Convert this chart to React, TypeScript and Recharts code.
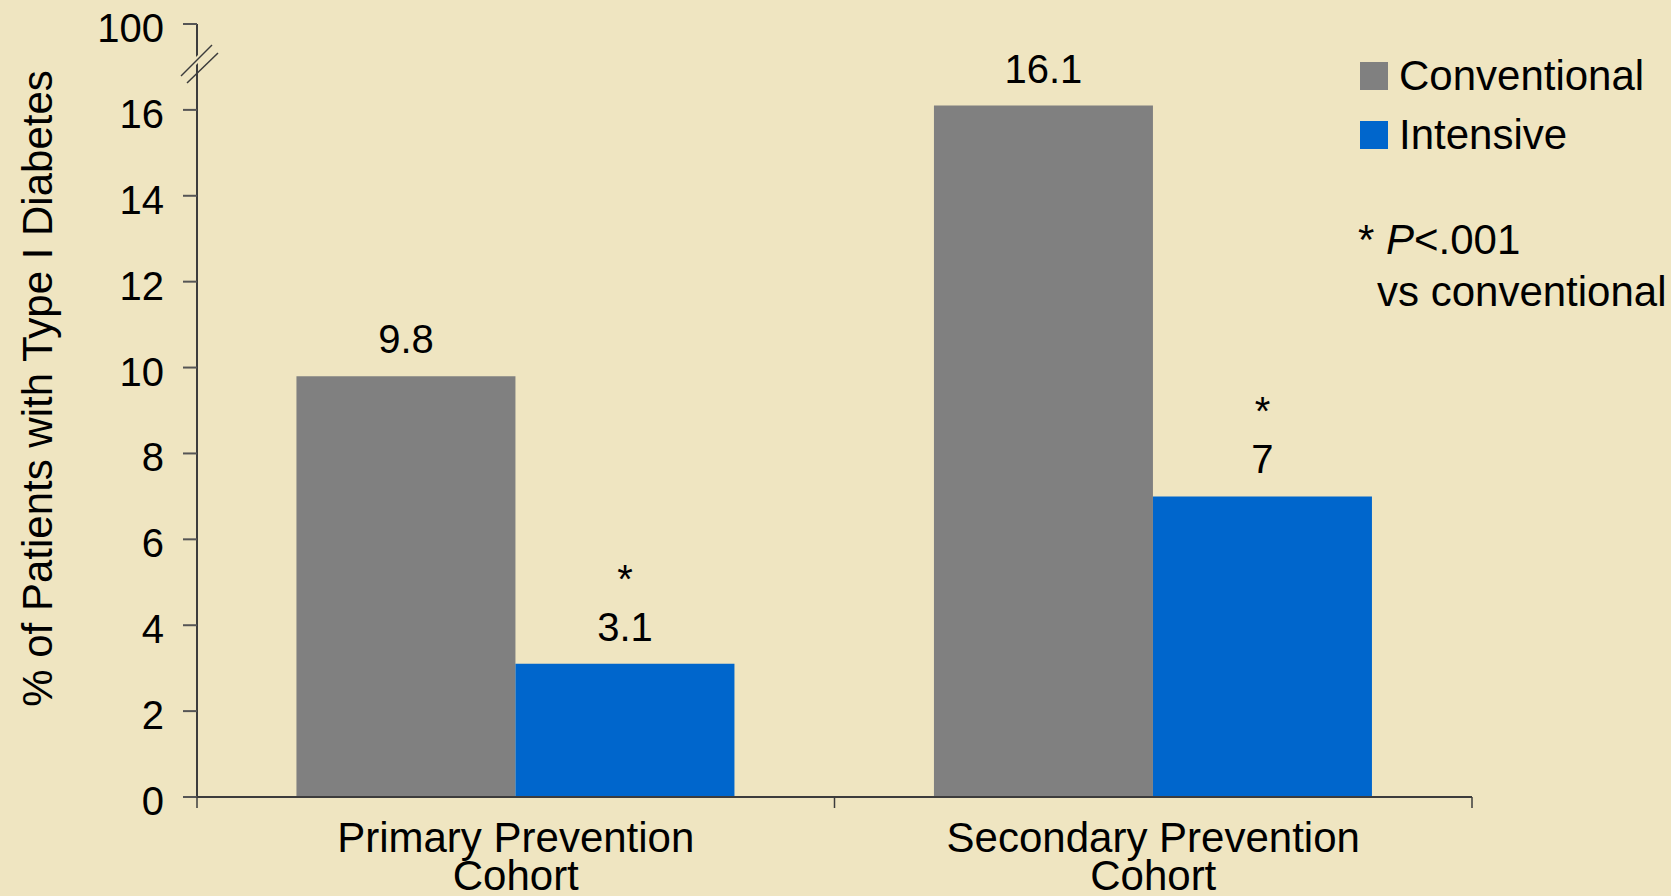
import React from "react";
import { Bar, BarChart, Label, LabelList, Legend, XAxis, YAxis } from "recharts";

const categories = ["Primary Prevention\nCohort", "Secondary Prevention\nCohort"];
const conventional = [9.8, 16.1];
const intensive = [3.1, 7];
const significant = [true, true];
const yTicks = [0, 2, 4, 6, 8, 10, 12, 14, 16, 18];
// the axis is broken above 16: the top tick stands for 100
const tickText: Record<number, string> = { 18: "100" };
const BREAK_AT = 18;

const BG = "#EFE5C1";
const GRAY = "#808080";
const BLUE = "#0066CC";
const AXIS = "#3c3c3c";
const FONT = "'Liberation Sans', Arial, sans-serif";

const Y_TICK_SIZE = 14;
const Y_TICK_MARGIN = 19;

const data = categories.map((name, i) => ({
  name,
  conventional: conventional[i],
  intensive: intensive[i],
}));

function YTick(props: any) {
  const { x, y, payload } = props;
  const label = tickText[payload.value] ?? String(payload.value);
  const axisX = x + Y_TICK_SIZE + Y_TICK_MARGIN;
  return (
    <g>
      <text x={x} y={y + 18} textAnchor="end" fontSize={40} fontFamily={FONT} fill="#000">
        {label}
      </text>
      {payload.value === BREAK_AT && (
        <g>
          <polygon
            points={`${axisX - 4},${y + 36} ${axisX + 4},${y + 28} ${axisX + 4},${y + 36} ${axisX - 4},${y + 44}`}
            fill={BG}
          />
          <g stroke={AXIS} strokeWidth={1.5}>
            <line x1={axisX - 16} y1={y + 52} x2={axisX + 15} y2={y + 21} />
            <line x1={axisX - 10} y1={y + 59} x2={axisX + 21} y2={y + 29} />
          </g>
        </g>
      )}
    </g>
  );
}

function XTick(props: any) {
  const { x, y, payload, width, visibleTicksCount, index } = props;
  const band = width && visibleTicksCount ? width / visibleTicksCount : (payload.offset ?? 0) * 2;
  const lines = String(payload.value).split("\n");
  const isLast = index === visibleTicksCount - 1;
  return (
    <g>
      <line x1={x - band / 2} y1={y} x2={x - band / 2} y2={y + 11} stroke={AXIS} strokeWidth={1.5} />
      {isLast && <line x1={x + band / 2} y1={y} x2={x + band / 2} y2={y + 11} stroke={AXIS} strokeWidth={1.5} />}
      <text x={x} y={y + 55} textAnchor="middle" fontSize={42} fontFamily={FONT} fill="#000">
        {lines.map((l, i) => (
          <tspan key={i} x={x} dy={i === 0 ? 0 : 38}>
            {l}
          </tspan>
        ))}
      </text>
    </g>
  );
}

function StarLabel(props: any) {
  const { x, y, width, value, index } = props;
  const cx = x + width / 2;
  return (
    <g fontFamily={FONT} fill="#000" textAnchor="middle">
      {significant[index] && (
        <text x={cx} y={y - 71} fontSize={40}>
          *
        </text>
      )}
      <text x={cx} y={y - 23} fontSize={40}>
        {value}
      </text>
    </g>
  );
}

function LegendBox(props: any) {
  const items = props.payload ?? [];
  return (
    <div style={{ fontFamily: FONT, fontSize: 42, color: "#000" }}>
      {items.map((it: any) => (
        <div key={it.value} style={{ display: "flex", alignItems: "center", height: 59 }}>
          <span style={{ width: 28, height: 28, background: it.color, marginRight: 11, display: "inline-block" }} />
          <span style={{ lineHeight: "59px" }}>{it.value}</span>
        </div>
      ))}
      <div style={{ marginTop: 50, marginLeft: -2, lineHeight: "52px", whiteSpace: "nowrap" }}>
        <div>
          * <i>P</i>&lt;.001
        </div>
        <div style={{ paddingLeft: 19 }}>vs conventional</div>
      </div>
    </div>
  );
}

export default function App() {
  return (
    <div style={{ position: "absolute", left: 0, top: 0, width: 1671, height: 896, background: BG, overflow: "hidden" }}>
      <BarChart
        width={1671}
        height={896}
        data={data}
        margin={{ top: 24, right: 199, bottom: 0, left: 0 }}
        barCategoryGap="15.6%"
        barGap={0}
      >
        <Bar dataKey="conventional" name="Conventional" fill={GRAY} isAnimationActive={false}>
          <LabelList dataKey="conventional" position="top" offset={23} fontSize={40} fontFamily={FONT} fill="#000" />
        </Bar>
        <Bar dataKey="intensive" name="Intensive" fill={BLUE} isAnimationActive={false}>
          <LabelList dataKey="intensive" content={<StarLabel />} />
        </Bar>
        <XAxis
          dataKey="name"
          height={99}
          tick={<XTick />}
          tickLine={false}
          tickSize={0}
          tickMargin={0}
          interval={0}
          axisLine={{ stroke: AXIS, strokeWidth: 2 }}
        />
        <YAxis
          type="number"
          domain={[0, 18]}
          ticks={yTicks}
          interval={0}
          width={197}
          tick={<YTick />}
          tickSize={Y_TICK_SIZE}
          tickMargin={Y_TICK_MARGIN}
          tickLine={{ stroke: "#555", strokeWidth: 2 }}
          axisLine={{ stroke: AXIS, strokeWidth: 2 }}
        >
          <Label
            content={(p: any) => {
              const vb = p.viewBox ?? { x: 0, y: 24, width: 197, height: 773 };
              const tx = vb.x + 52;
              const ty = vb.y + vb.height / 2 - 22;
              return (
                <text
                  x={tx}
                  y={ty}
                  transform={`rotate(-90, ${tx}, ${ty})`}
                  textAnchor="middle"
                  fontSize={42}
                  fontFamily={FONT}
                  fill="#000"
                >
                  % of Patients with Type I Diabetes
                </text>
              );
            }}
          />
        </YAxis>
        <Legend
          layout="vertical"
          align="center"
          verticalAlign="middle"
          content={<LegendBox />}
          wrapperStyle={{ position: "absolute", left: 1360, top: 46, width: 311, margin: 0 }}
        />
      </BarChart>
    </div>
  );
}
